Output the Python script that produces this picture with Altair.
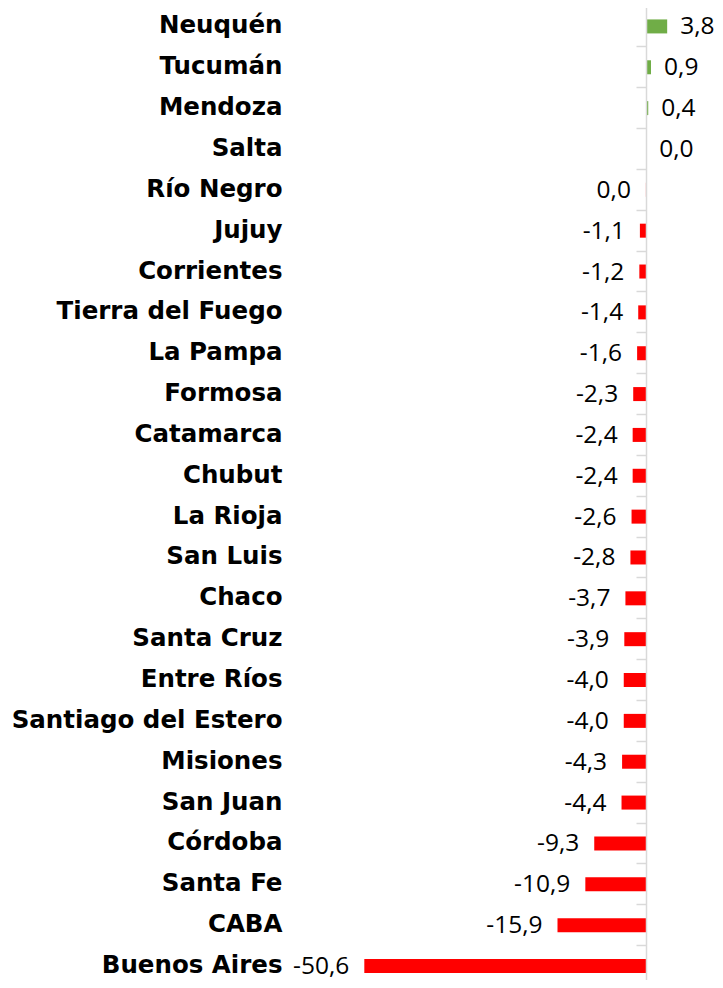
import altair as alt
import pandas as pd

provinces = [
    "Neuquén", "Tucumán", "Mendoza", "Salta", "Río Negro", "Jujuy", "Corrientes",
    "Tierra del Fuego", "La Pampa", "Formosa", "Catamarca", "Chubut", "La Rioja",
    "San Luis", "Chaco", "Santa Cruz", "Entre Ríos", "Santiago del Estero",
    "Misiones", "San Juan", "Córdoba", "Santa Fe", "CABA", "Buenos Aires",
]
values = [
    3.8, 0.9, 0.4, 0.02, -0.02, -1.1, -1.2, -1.4, -1.6, -2.3, -2.4, -2.4, -2.6,
    -2.8, -3.7, -3.9, -4.0, -4.0, -4.3, -4.4, -9.3, -10.9, -15.9, -50.6,
]


def fmt(v):
    r = round(v, 1)
    s = f"{abs(r):.1f}".replace(".", ",")
    return ("-" + s) if r < 0 else s


df = pd.DataFrame({
    "name": provinces,
    "v": values,
    "label": [fmt(v) for v in values],
    "side": ["pos" if v > 0 else "neg" for v in values],
})

y = alt.Y(
    "name:N",
    sort=provinces,
    scale=alt.Scale(range=[-2, 978.4], paddingInner=0, paddingOuter=0),
    axis=alt.Axis(
        title=None, orient="left", offset=-638, grid=False,
        domainColor="#D9D9D9", domainWidth=1.5,
        tickColor="#D9D9D9", tickWidth=1.5, tickSize=10, bandPosition=0,
        labelPadding=354, labelFont="DejaVu Sans", labelFontWeight="bold",
        labelFontSize=24.5, labelColor="black", labelAlign="right",
        labelBaseline="middle", labelLimit=400, zindex=1,
    ),
)
x = alt.X("v:Q", scale=alt.Scale(domain=[-114.6, 12.39], nice=False, zero=False), axis=None)

base = alt.Chart(df)

bars = base.mark_bar(height=14).encode(
    x=x,
    x2=alt.datum(0),
    y=y,
    color=alt.Color("side:N", scale=alt.Scale(domain=["pos", "neg"], range=["#70AD47", "#FF0000"]), legend=None),
)

pos_text = base.transform_filter(alt.datum.side == "pos").mark_text(
    align="left", baseline="middle", dx=13, dy=1, font="Open Sans", fontSize=24.5, color="black"
).encode(x=x, y=alt.Y("name:N", sort=provinces), text="label:N")

neg_text = base.transform_filter(alt.datum.side == "neg").mark_text(
    align="right", baseline="middle", dx=-15, dy=1, font="Open Sans", fontSize=24.5, color="black"
).encode(x=x, y=alt.Y("name:N", sort=provinces), text="label:N")

chart = alt.layer(bars, pos_text, neg_text).properties(
    width=707, height=972, autosize=alt.AutoSizeParams(type="none"), padding=0,
    background="white",
).configure_view(stroke=None)

chart.save("out.html", embed_options={"renderer": "svg", "actions": False})
